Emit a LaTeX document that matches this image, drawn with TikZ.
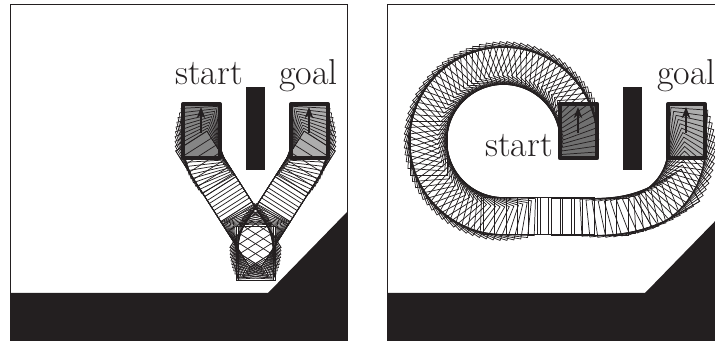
\documentclass[tikz,border=0pt]{standalone}
\usetikzlibrary{arrows.meta}
\definecolor{ink}{RGB}{35,31,32}
\definecolor{boxdark}{gray}{0.44}
\definecolor{boxmid}{gray}{0.52}
\definecolor{boxlight}{gray}{0.68}
\tikzset{
  robline/.style={draw=ink,line width=0.55pt},
  robbox/.style={draw=ink,line width=3pt,line join=round},
  headarrow/.style={draw=ink,line width=0.8pt,-{Stealth[length=8.5pt,width=6.5pt]}},
  frame/.style={draw=ink,line width=0.6pt},
  lab/.style={inner sep=0pt,anchor=base west,text=ink,font=\fontsize{27}{32}\selectfont}
}
% pivot x, pivot y, angle, then rect corners relative to the pivot
\newcommand\rbt[7]{\draw[robline,shift={(#1,#2)},rotate=#3] (#4,#5) rectangle (#6,#7);}
% straight run: x1 y1 x2 y2 angle, fraction step
\newcommand\rbrun[6]{\foreach \tt in {0,#6,...,1.01}{%
  \pgfmathsetmacro\xx{#1+(#3-#1)*\tt}\pgfmathsetmacro\yy{#2+(#4-#2)*\tt}%
  \draw[robline,shift={(\xx,\yy)},rotate=#5] (-18.5,-27) rectangle (18.5,27);}}
\begin{document}
\begin{tikzpicture}[x=0.75pt,y=-0.75pt]
\useasboundingbox (0,0) rectangle (715,341);
%---------- left panel
\fill[ink] (10,293) -- (268,293) -- (347,212) -- (347,341) -- (10,341) -- cycle;
\draw[frame] (10,4) rectangle (347,341);
\fill[ink] (246,87) rectangle (265,170);
\fill[boxmid] (183,104) rectangle (220,158);
\fill[boxlight] (291,104) rectangle (328,158);
% start to cusp
\foreach \a in {0,3.25,...,32.6}{\rbt{260}{140}{\a}{-77}{-36}{-40}{18}}
\rbrun{205.8}{163.8}{250.9}{234.5}{32.5}{0.1}
\foreach \a in {0,3.25,...,32.6}{\rbt{221}{250}{\a}{15}{-24}{52}{30}}
% goal to cusp
\foreach \a in {0,3.25,...,32.6}{\rbt{251}{140}{-\a}{40}{-36}{77}{18}}
\rbrun{305.2}{163.8}{260.1}{234.5}{-32.5}{0.1}
\foreach \a in {0,3.25,...,32.6}{\rbt{290}{250}{-\a}{-52}{-24}{-15}{30}}
\draw[robbox] (183,104) rectangle (220,158);
\draw[robbox] (291,104) rectangle (328,158);
\coordinate (ls0) at (201,133); \coordinate (ls1) at (201,107);
\coordinate (lg0) at (309,133); \coordinate (lg1) at (309,107);
\draw[headarrow] (ls0) -- (ls1);
\draw[headarrow] (lg0) -- (lg1);
\node[lab] (startL) at (175,85) {start};
\node[lab] (goalL) at (279,85) {goal};
%---------- right panel
\begin{scope}
\clip (380,0) rectangle (715,341);
\fill[ink] (387,293) -- (645,293) -- (724,212) -- (724,341) -- (387,341) -- cycle;
\draw[frame] (387,4) rectangle (724,341);
\fill[ink] (623,87) rectangle (642,170);
\fill[boxdark] (560,104) rectangle (597,158);
\fill[boxlight] (668,104) rectangle (705,158);
\foreach \a in {0,4,...,270}{%
  \pgfmathsetmacro\dd{min(-34,-37+\a/8)}\pgfmathsetmacro\de{\dd+54}%
  \rbt{503.5}{141}{\a}{56.5}{\dd}{93.5}{\de}}
\rbrun{510.5}{216}{601}{216.5}{-90}{0.125}
\foreach \a in {270,273,...,300}{\rbt{601}{84.5}{\a}{113.5}{-27}{150.5}{27}}
\foreach \a in {300,304,...,360}{\rbt{618}{148}{\a}{50}{-44}{87}{10}}
\draw[robbox,line width=3.6pt] (560,104) rectangle (597,158);
\draw[robbox] (668,104) rectangle (705,158);
\coordinate (rs0) at (578,133); \coordinate (rs1) at (578,107);
\coordinate (rg0) at (686,133); \coordinate (rg1) at (686,107);
\draw[headarrow] (rs0) -- (rs1);
\draw[headarrow] (rg0) -- (rg1);
\node[lab] (startR) at (485,157) {start};
\node[lab] (goalR) at (657,85) {goal};
\end{scope}
\end{tikzpicture}
\end{document}
